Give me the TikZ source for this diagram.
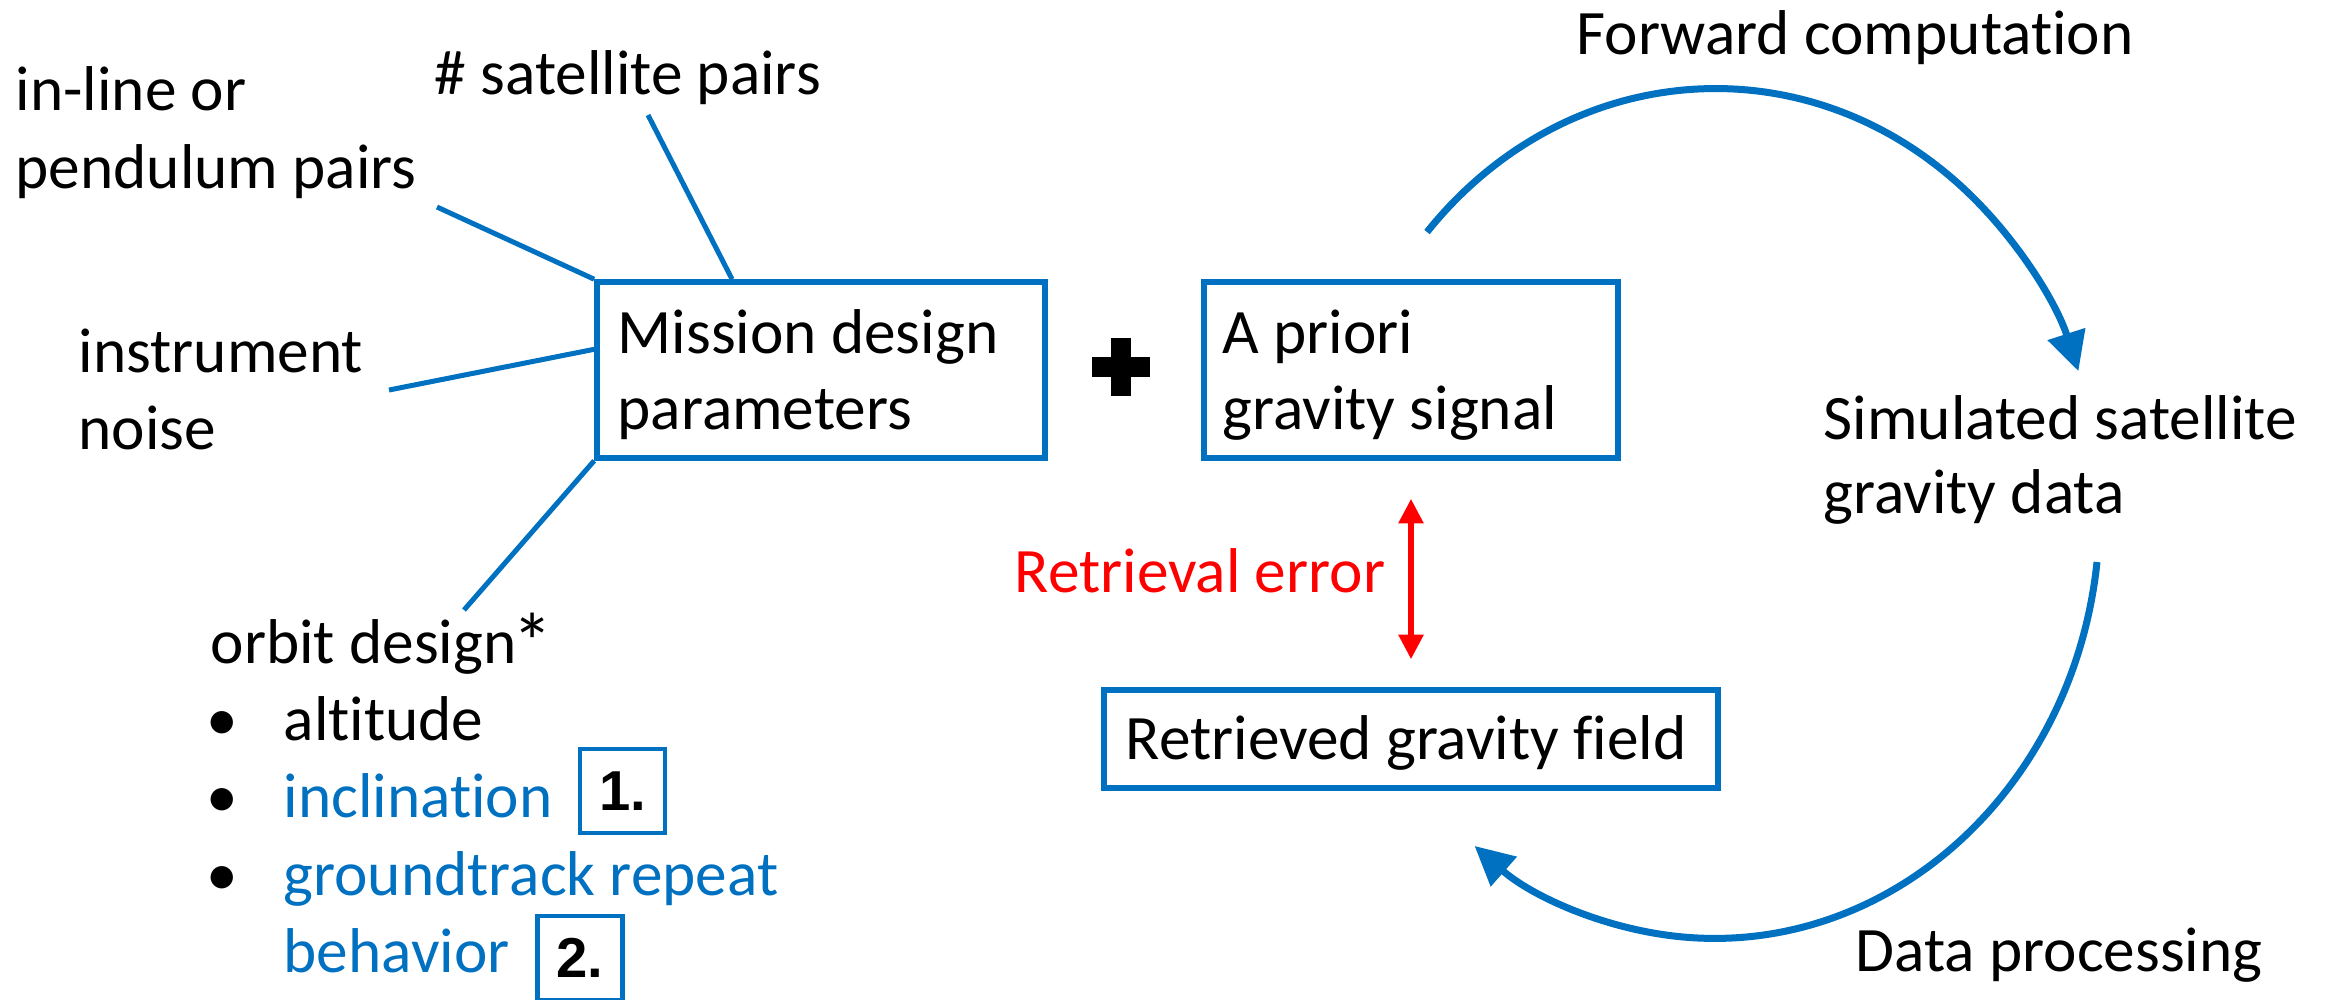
\documentclass[tikz,border=0pt]{standalone}
\usepackage{fontspec}
\setmainfont{Carlito}[Ligatures=NoCommon]
\newfontfamily\arialfont{Liberation Sans}
\usetikzlibrary{arrows.meta,calc}
\definecolor{oblue}{HTML}{0070C0}
\definecolor{ored}{HTML}{FF0000}
\begin{document}
\begin{tikzpicture}[x=0.01cm,y=-0.01cm,
  txt/.style={anchor=base west, inner sep=0pt, font=\fontsize{18}{22}\selectfont},
  bluetxt/.style={txt, text=oblue},
  box/.style={draw=oblue, line width=0.055cm, rectangle, inner sep=0pt},
  spoke/.style={draw=oblue, line width=0.05cm},
  cyc/.style={draw=oblue, line width=0.07cm, -{Triangle[length=0.39cm,width=0.38cm]}},
  errarrow/.style={draw=ored, line width=0.055cm, {Triangle[length=0.245cm,width=0.24cm]}-{Triangle[length=0.245cm,width=0.24cm]}},
  numbox/.style={draw=oblue, line width=0.045cm, minimum width=0.85cm, minimum height=0.84cm, inner sep=0pt, font=\arialfont\bfseries\fontsize{16}{19}\selectfont},
  bul/.style={anchor=base, inner sep=0pt, font=\fontsize{18}{22}\selectfont}
]
\useasboundingbox (0,0) rectangle (2333,999);

% boxes
\node[box, minimum width=4.48cm, minimum height=1.76cm] (mission) at (821,370) {};
\node[box, minimum width=4.14cm, minimum height=1.76cm] (apriori) at (1411,370) {};
\node[box, minimum width=6.14cm, minimum height=0.98cm] (retrieved) at (1411,739) {};

% box texts
\node[txt] (mis1) at (617,353) {Mission design};
\node[txt] (mis2) at (617,429) {parameters};
\node[txt] (apr1) at (1222,353) {A priori};
\node[txt] (apr2) at (1222,429) {gravity signal};
\node[txt] (ret) at (1125,759) {Retrieved gravity field};
\node[txt, text=ored] (err) at (1014,592) {Retrieval error};

% cycle labels
\node[txt] (fwd) at (1576,54) {Forward computation};
\node[txt] (sim1) at (1823,439) {Simulated satellite};
\node[txt] (sim2) at (1823,513) {gravity data};
\node[txt] (dp) at (1855,971) {Data processing};

% left labels
\node[txt] (il1) at (15,110) {in-line or};
\node[txt] (il2) at (15,188) {pendulum pairs};
\node[txt] (sat) at (434,94) {\# satellite pairs};
\node[txt] (in1) at (78,372) {instrument};
\node[txt] (in2) at (78,449) {noise};
\node[txt] (orb) at (210,663) {orbit design\kern-0.07em\raisebox{-0.12em}{\fontsize{23}{23}\selectfont *}};
\node[bul] (b1) at (222,740) {•};
\node[bul] (b2) at (222,817) {•};
\node[bul] (b3) at (222,895) {•};
\node[txt] (alt) at (283,740) {altitude};
\node[bluetxt] (inc) at (283,817) {inclination};
\node[bluetxt] (gt1) at (283,895) {groundtrack repeat};
\node[bluetxt] (gt2) at (283,972) {behavior};
\node[numbox] (n1) at (622.5,791) {1.};
\node[numbox] (n2) at (580,958) {2.};

% spokes
\coordinate (pendEnd) at (437,207);
\coordinate (satEnd) at (648,115);
\coordinate (insEnd) at (389,390);
\coordinate (orbEnd) at (464,610);
\draw[spoke] (pendEnd) -- (mission.north west);
\draw[spoke] (satEnd) -- ($(mission.north west)!0.304!(mission.north east)$);
\draw[spoke] (insEnd) -- ($(mission.north west)!0.386!(mission.south west)$);
\draw[spoke] (orbEnd) -- (mission.south west);

% plus sign
\fill (1092,357) rectangle (1150,377);
\fill (1111,338) rectangle (1131,396);

% retrieval error arrow
\draw[errarrow, shorten <=0.38cm, shorten >=0.28cm] (apriori.south) -- (retrieved.north);

% cycle arcs
\coordinate (fwdStart) at (1427,232);
\draw[cyc] (fwdStart) arc[start angle=138.5, end angle=19.6, x radius=3.85cm, y radius=4.25cm];
\coordinate (dpStart) at (2097,562);
\draw[cyc] (dpStart) arc[start angle=-6.6, end angle=-128.5, x radius=3.85cm, y radius=4.25cm];
\end{tikzpicture}
\end{document}
